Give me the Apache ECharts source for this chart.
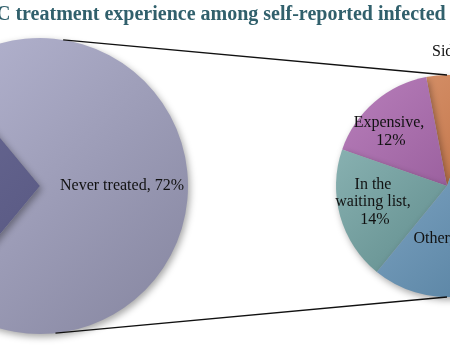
<!DOCTYPE html>
<html>
<head>
<meta charset="utf-8">
<script src="https://cdn.jsdelivr.net/npm/echarts@6/dist/echarts.min.js"></script>
<style>
html,body{margin:0;padding:0;background:#fff;}
#chart{width:450px;height:360px;}
</style>
</head>
<body>
<div id="chart"></div>
<script>
// ---- data ----
const titleText = 'Hepatitis C treatment experience among self-reported infected PWID';
const mainCategories = ['Never treated', 'Treated'];
const mainValues = [72, 28];
const subCategories = ['Side effects', 'Expensive', 'In the waiting list', 'Other'];
const subValues = [6, 12, 14, 40];

// ---- layout / style ----
const FONT = '"Liberation Serif", "Times New Roman", serif';
const L = { cx: 40, cy: 186, r: 148 };
const R = { cx: 447, cy: 186, r: 111 };
const mainColors = [['#b8b8d4', '#85859f'], ['#6e6e9a', '#4c4c74']];
const subColors = [['#dc9a74', '#b05a2a'], ['#b980bc', '#7e4282'], ['#94bcbc', '#4a7878'], ['#8fb4d2', '#4f7a9a']];
const subLabelPos = [ { x: 432, y: 52, align: 'left', width: 200 }, { x: 391, y: 132 }, { x: 375, y: 202 }, { x: 450, y: 239 } ];

function grad(c, cols) {
  return { type: 'linear', global: true, x: c.cx - c.r, y: c.cy - c.r, x2: c.cx + c.r, y2: c.cy + c.r,
    colorStops: [{ offset: 0, color: cols[0] }, { offset: 1, color: cols[1] }] };
}
const shadow = { shadowBlur: 7, shadowOffsetX: 2, shadowOffsetY: 3, shadowColor: 'rgba(0,0,0,0.35)' };

// title offset so that the visible text starts like the reference
const ctx = document.createElement('canvas').getContext('2d');
ctx.font = 'bold 20px ' + FONT;
const prefixW = ctx.measureText('Hepatitis ').width;

const mainTotal = mainValues.reduce((a, b) => a + b, 0);
const mainStart = 180 - (mainValues[1] / mainTotal) * 360 / 2;
const subTotal = subValues.reduce((a, b) => a + b, 0);

function pt(c, deg, rr) {
  const a = deg * Math.PI / 180;
  return [c.cx + Math.cos(a) * (rr || c.r), c.cy - Math.sin(a) * (rr || c.r)];
}

const chart = echarts.init(document.getElementById('chart'), null, { renderer: 'canvas' });
chart.setOption({
  animation: false,
  backgroundColor: '#fff',
  graphic: [
    { type: 'text', left: -4 - prefixW, top: 5, style: { text: titleText, font: 'bold 20px ' + FONT, fill: '#31606c' } },
    { type: 'polyline', z: 5, shape: { points: [pt(L, 81), pt(R, 90)] }, style: { stroke: '#111', lineWidth: 1.3, fill: null } },
    { type: 'polyline', z: 5, shape: { points: [pt(L, -84), pt(R, -90)] }, style: { stroke: '#111', lineWidth: 1.3, fill: null } }
  ],
  series: [
    {
      type: 'pie', center: [L.cx, L.cy], radius: L.r, startAngle: mainStart, clockwise: true,
      silent: true, emphasis: { disabled: true },
      data: mainCategories.map((n, i) => ({
        name: n, value: mainValues[i],
        itemStyle: Object.assign({ color: grad(L, mainColors[i]) }, shadow),
        label: { show: i === 0 }
      })),
      label: { position: 'inside', formatter: '{b}, {c}%', color: '#111', fontFamily: FONT, fontSize: 16 },
      labelLayout: () => ({ dx: 5 }),
      labelLine: { show: false }
    },
    {
      type: 'pie', center: [R.cx, R.cy], radius: R.r, startAngle: 100.8 - subValues[0] / subTotal * 360, clockwise: false,
      silent: true, emphasis: { disabled: true },
      data: subCategories.map((n, i) => ({
        name: n, value: subValues[i],
        itemStyle: Object.assign({ color: grad(R, subColors[i]) }, shadow),
        label: { width: subLabelPos[i].width || 80 }
      })),
      label: { position: 'inside', formatter: '{b}, {c}%', color: '#111', fontFamily: FONT, fontSize: 16,
               overflow: 'break', lineHeight: 17.5, align: 'center' },
      labelLayout: (p) => {
        const s = subLabelPos[p.dataIndex];
        return { x: s.x, y: s.y, align: s.align || 'center', verticalAlign: 'middle' };
      },
      labelLine: { show: false }
    }
  ]
});
</script>
</body>
</html>
